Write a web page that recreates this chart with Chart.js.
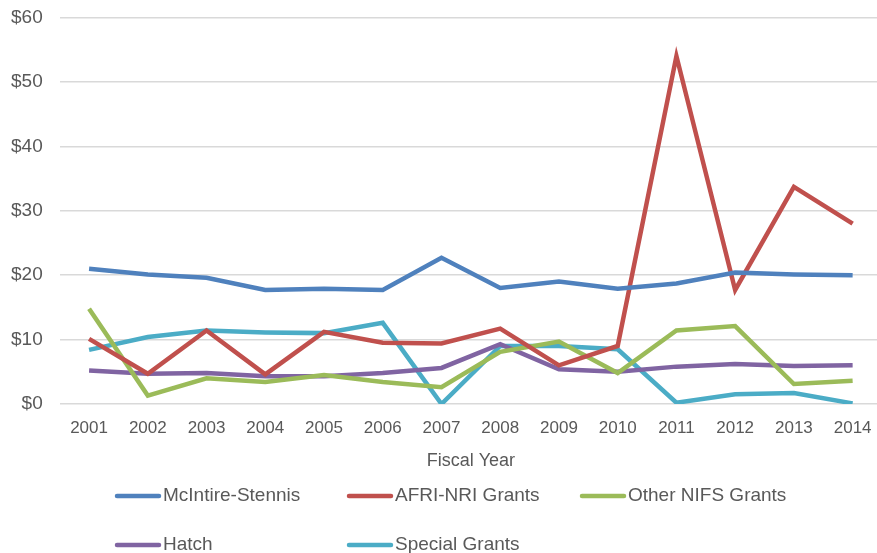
<!DOCTYPE html>
<html>
<head>
<meta charset="utf-8">
<script src="https://cdn.jsdelivr.net/npm/chart.js@4"></script>
<style>
  html, body { margin: 0; padding: 0; background: #fff; overflow: hidden; }
  #wrap { width: 884px; height: 564px; margin-left: -2px; margin-top: -11px; }
</style>
</head>
<body>
<div id="wrap"><canvas id="chart"></canvas></div>
<script>
const years = ["2001","2002","2003","2004","2005","2006","2007","2008","2009","2010","2011","2012","2013","2014"];

const mcintire = [21.0, 20.1, 19.6, 17.7, 17.9, 17.7, 22.7, 18.0, 19.0, 17.9, 18.7, 20.4, 20.1, 20.0];
const afri     = [10.1, 4.7, 11.4, 4.6, 11.2, 9.5, 9.4, 11.7, 6.0, 9.0, 54.0, 17.7, 33.7, 28.0];
const otherNifs = [14.8, 1.3, 4.0, 3.4, 4.5, 3.4, 2.6, 8.1, 9.7, 4.8, 11.4, 12.1, 3.1, 3.6];
const hatch    = [5.2, 4.7, 4.8, 4.3, 4.3, 4.8, 5.6, 9.3, 5.4, 5.0, 5.8, 6.2, 5.9, 6.0];
const special  = [8.4, 10.4, 11.4, 11.1, 11.0, 12.6, 0.0, 9.0, 9.0, 8.5, 0.2, 1.5, 1.7, 0.1];

const seriesNames = ["McIntire-Stennis", "AFRI-NRI Grants", "Other NIFS Grants", "Hatch", "Special Grants"];
const colors = ["#4F81BD", "#C0504D", "#9BBB59", "#8064A2", "#4BACC6"];

const FONT = "'Liberation Sans', Arial, sans-serif";
const TEXT = "#595959";

function line(i, values) {
    return {
        label: seriesNames[i],
        data: values,
        borderColor: colors[i],
        backgroundColor: colors[i],
        borderWidth: 4.5,
        pointRadius: 0,
        tension: 0,
        fill: false
    };
}

// legend laid out in fixed columns like the original
// (canvas is shifted 2px left and 11px up, hence the offsets)
const gridLegend = {
    id: "gridLegend",
    afterDraw(chart) {
        const ctx = chart.ctx;
        const colX = [119, 351, 584];
        const rowY = [507, 556];
        ctx.save();
        ctx.font = "19px " + FONT;
        ctx.fillStyle = TEXT;
        ctx.textBaseline = "middle";
        chart.data.datasets.forEach((ds, i) => {
            const x = colX[i % 3];
            const y = rowY[Math.floor(i / 3)];
            ctx.strokeStyle = ds.borderColor;
            ctx.lineWidth = 4.5;
            ctx.lineCap = "round";
            ctx.beginPath();
            ctx.moveTo(x, y);
            ctx.lineTo(x + 42, y);
            ctx.stroke();
            ctx.fillText(ds.label, x + 46, y);
        });
        ctx.restore();
    }
};

new Chart(document.getElementById("chart"), {
    type: "line",
    data: {
        labels: years,
        datasets: [
            line(0, mcintire),
            line(1, afri),
            line(2, otherNifs),
            line(3, hatch),
            line(4, special)
        ]
    },
    options: {
        responsive: true,
        maintainAspectRatio: false,
        animation: false,
        layout: { padding: { top: 0, right: 0, left: -4, bottom: 77 } },
        plugins: {
            legend: { display: false },
            tooltip: { enabled: false }
        },
        scales: {
            x: {
                offset: true,
                grid: { display: false },
                border: { display: false },
                ticks: { color: TEXT, font: { family: FONT, size: 17 }, padding: 6 },
                title: {
                    display: true,
                    text: "Fiscal Year",
                    color: TEXT,
                    font: { family: FONT, size: 18 },
                    padding: { top: 6 }
                }
            },
            y: {
                min: 0,
                max: 60,
                grid: { color: "#D9D9D9", lineWidth: 1.5, drawTicks: false },
                border: { display: false },
                ticks: {
                    stepSize: 10,
                    color: TEXT,
                    font: { family: FONT, size: 19 },
                    padding: 17,
                    callback: v => "$" + v
                }
            }
        }
    },
    plugins: [gridLegend]
});
</script>
</body>
</html>
